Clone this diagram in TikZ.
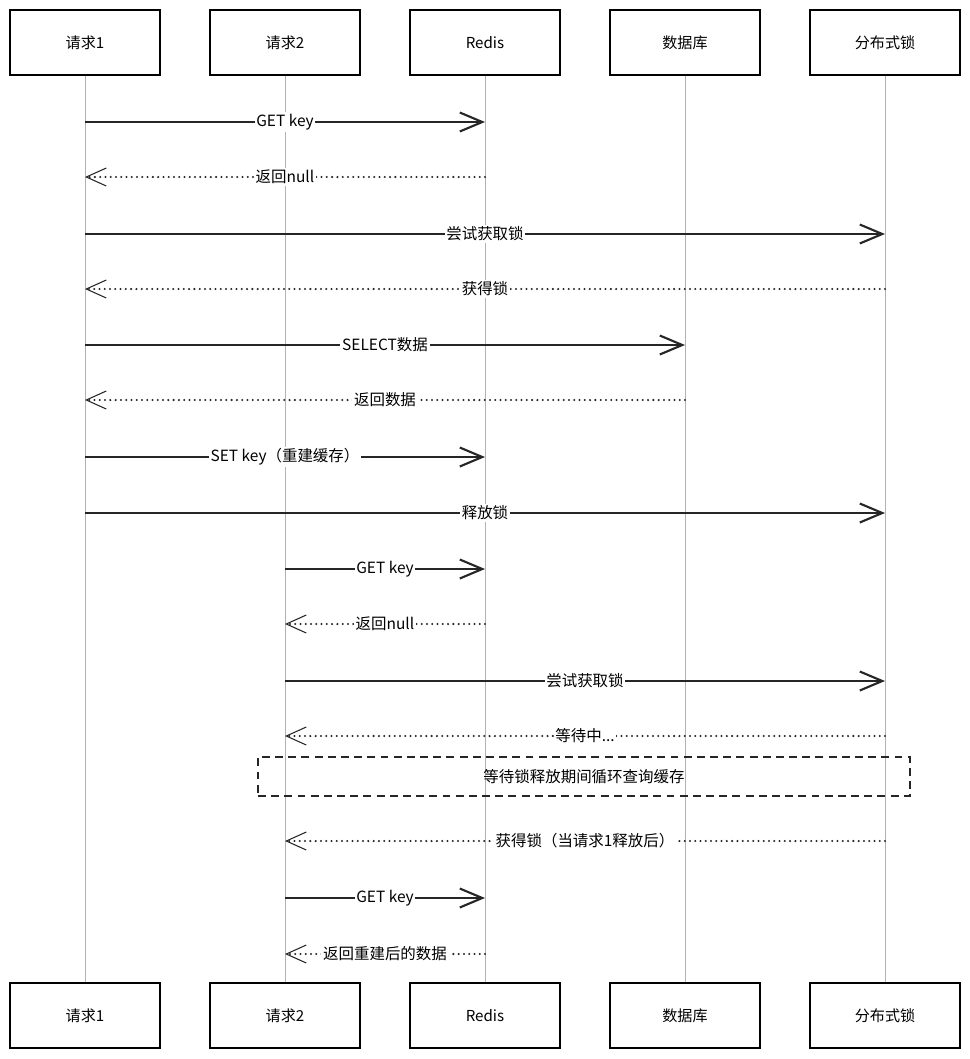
\documentclass[tikz,border=0pt]{standalone}
\usepackage{fontspec}
\setmainfont{Noto Sans CJK SC}
\usetikzlibrary{arrows.meta, positioning}
\tikzstyle{Actor} = [rectangle,
                     minimum width=3cm,
                     minimum height=1.3cm,
                     text centered,
                     draw=black,
                     line width=1.1pt,
                     fill=white,
                     font=\fontsize{8.6pt}{10pt}\selectfont]
\tikzstyle{Life} = [draw=black!30,
                    line width=0.5pt]
\tikzstyle{Call} = [draw=black!85,
                    line width=1.2pt,
                    -{Straight Barb[length=0.45cm, width=0.38cm, line width=1.2pt]}]
\tikzstyle{Reply} = [draw=black!85,
                     line width=1.3pt,
                     line cap=round,
                     dash pattern=on 0pt off 3pt,
                     -{Straight Barb[length=0.4cm, width=0.36cm, line width=0.6pt]}]
\tikzstyle{Msg_Label} = [fill=white,
                         inner sep=1pt,
                         font=\fontsize{8.8pt}{10pt}\selectfont]
\tikzstyle{Loop_Box} = [rectangle,
                        minimum width=13.04cm,
                        minimum height=0.78cm,
                        text centered,
                        draw=black!85,
                        line width=1.1pt,
                        dash pattern=on 4.5pt off 3pt,
                        font=\fontsize{8.8pt}{10pt}\selectfont]

\begin{document}
\begin{tikzpicture}
        \useasboundingbox (0,0) rectangle (19.4,-21.18);

        \node (R1_Top) [Actor] at (1.7,-0.85) {请求1};
        \node (R2_Top) [Actor, right of=R1_Top, xshift=3cm] {请求2};
        \node (Redis_Top) [Actor, right of=R2_Top, xshift=3cm] {Redis};
        \node (DB_Top) [Actor, right of=Redis_Top, xshift=3cm] {数据库};
        \node (Lock_Top) [Actor, right of=DB_Top, xshift=3cm] {分布式锁};

        \node (R1_Bot) [Actor] at (1.7,-20.31) {请求1};
        \node (R2_Bot) [Actor, right of=R1_Bot, xshift=3cm] {请求2};
        \node (Redis_Bot) [Actor, right of=R2_Bot, xshift=3cm] {Redis};
        \node (DB_Bot) [Actor, right of=Redis_Bot, xshift=3cm] {数据库};
        \node (Lock_Bot) [Actor, right of=DB_Bot, xshift=3cm] {分布式锁};

        \draw [Life] (R1_Top) -- (R1_Bot);
        \draw [Life] (R2_Top) -- (R2_Bot);
        \draw [Life] (Redis_Top) -- (Redis_Bot);
        \draw [Life] (DB_Top) -- (DB_Bot);
        \draw [Life] (Lock_Top) -- (Lock_Bot);

        % message rows
        \foreach \n/\y in {1/2.44, 2/3.54, 3/4.68, 4/5.78, 5/6.9, 6/8.0, 7/9.14, 8/10.26,
                           9/11.38, 10/12.48, 11/13.62, 12/14.72, 13/16.82, 14/17.96, 15/19.08}
            \coordinate (Y\n) at (0,-\y);

        \draw [Call] (R1_Top |- Y1) -- node [Msg_Label] {GET key} (Redis_Top |- Y1);
        \draw [Reply] (Redis_Top |- Y2) -- node [Msg_Label] {返回null} (R1_Top |- Y2);
        \draw [Call] (R1_Top |- Y3) -- node [Msg_Label] {尝试获取锁} (Lock_Top |- Y3);
        \draw [Reply] (Lock_Top |- Y4) -- node [Msg_Label] {获得锁} (R1_Top |- Y4);
        \draw [Call] (R1_Top |- Y5) -- node [Msg_Label] {SELECT数据} (DB_Top |- Y5);
        \draw [Reply] (DB_Top |- Y6) -- node [Msg_Label] {返回数据} (R1_Top |- Y6);
        \draw [Call] (R1_Top |- Y7) -- node [Msg_Label] {SET key（重建缓存）} (Redis_Top |- Y7);
        \draw [Call] (R1_Top |- Y8) -- node [Msg_Label] {释放锁} (Lock_Top |- Y8);

        \draw [Call] (R2_Top |- Y9) -- node [Msg_Label] {GET key} (Redis_Top |- Y9);
        \draw [Reply] (Redis_Top |- Y10) -- node [Msg_Label] {返回null} (R2_Top |- Y10);
        \draw [Call] (R2_Top |- Y11) -- node [Msg_Label] {尝试获取锁} (Lock_Top |- Y11);
        \draw [Reply] (Lock_Top |- Y12) -- node [Msg_Label] {等待中...} (R2_Top |- Y12);

        \node (Wait_Loop) [Loop_Box] at (11.68,-15.53) {等待锁释放期间循环查询缓存};

        \draw [Reply] (Lock_Top |- Y13) -- node [Msg_Label] {获得锁（当请求1释放后）} (R2_Top |- Y13);
        \draw [Call] (R2_Top |- Y14) -- node [Msg_Label] {GET key} (Redis_Top |- Y14);
        \draw [Reply] (Redis_Top |- Y15) -- node [Msg_Label] {返回重建后的数据} (R2_Top |- Y15);
    \end{tikzpicture}
\end{document}
